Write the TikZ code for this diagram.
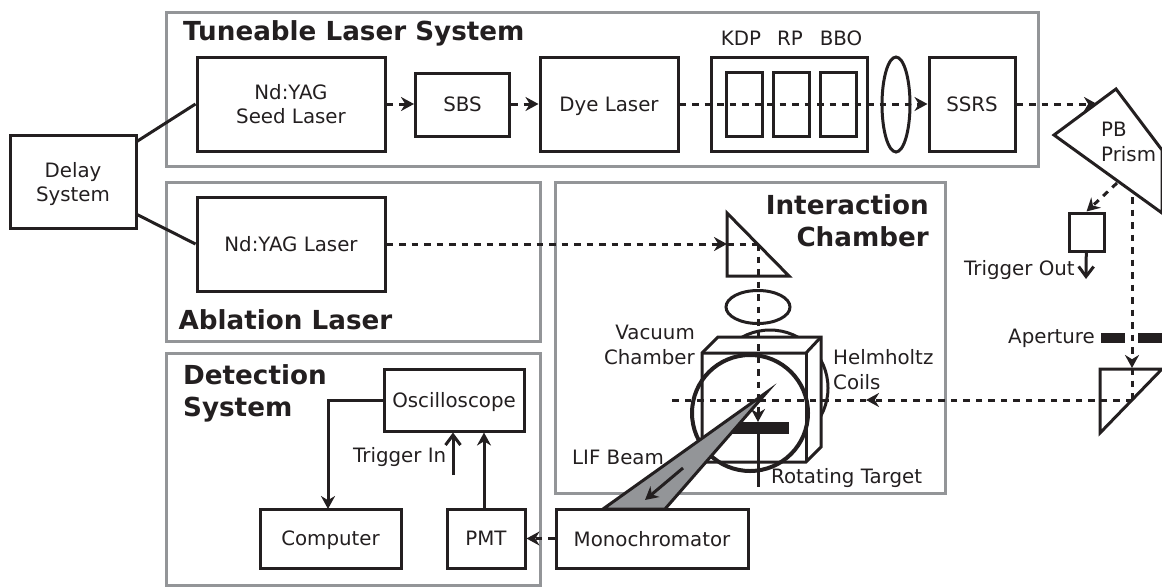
\documentclass[tikz,border=0pt]{standalone}
\usepackage{fontspec}
\setmainfont{DejaVu Sans}
\usetikzlibrary{shapes.geometric, arrows.meta}
\definecolor{ink}{HTML}{231F20}
\definecolor{framegray}{HTML}{939598}
\tikzstyle{box} = [rectangle, draw=ink, line width=3pt, inner sep=0pt, text=ink, align=center, text depth=0pt, font=\fontsize{19.8}{24.5}\selectfont]
\tikzstyle{frame} = [rectangle, draw=framegray, line width=3pt, inner sep=0pt]
\tikzstyle{title} = [inner sep=0pt, text=ink, font=\fontsize{26.2}{32}\selectfont\bfseries]
\tikzstyle{tag} = [inner sep=0pt, text=ink, font=\fontsize{19.8}{25}\selectfont]
\tikzstyle{solid line} = [draw=ink, line width=3pt]
\tikzstyle{arrow} = [draw=ink, line width=3pt,-{Stealth[length=13pt,width=14pt]}]
\tikzstyle{open arrow} = [draw=ink, line width=3pt,-{Straight Barb[length=10pt,width=15pt]}]
\tikzstyle{beam} = [draw=ink, line width=3pt,-{Stealth[length=13pt,width=14pt]}, dash pattern=on 6.5pt off 6pt]
\tikzstyle{beam end} = [draw=ink, line width=3pt, dash pattern=on 6.5pt off 6pt]
\begin{document}
\begin{tikzpicture}[x=1pt, y=-1pt, line join=miter]
            \useasboundingbox (0,0) rectangle (1162,587);

            % frames
            \node (tuneable)  [frame, minimum width=872pt, minimum height=154pt] at (602,89) {};
            \node (ablation)  [frame, minimum width=374pt, minimum height=159pt] at (353,261.5) {};
            \node (interact)  [frame, minimum width=390pt, minimum height=311pt] at (750,337.5) {};
            \node (detection) [frame, minimum width=374pt, minimum height=232pt] at (353,469) {};

            \node (ttune)   [title, anchor=west] at (183,33) {Tuneable Laser System};
            \node (tablate) [title, anchor=west] at (178.5,320) {Ablation Laser};
            \node (tinter)  [title, anchor=east, align=right] at (929,221) {Interaction\\Chamber};
            \node (tdetect) [title, anchor=west, align=left] at (183,393) {Detection\\System};

            % boxes
            \node (delay) [box, minimum width=126pt, minimum height=93pt] at (73,182) {Delay\\System};
            \node (seed)  [box, minimum width=188pt, minimum height=94pt] at (291,104) {Nd:YAG\\Seed Laser};
            \node (sbs)   [box, minimum width=94pt, minimum height=63pt] at (462.5,104.5) {SBS};
            \node (dye)   [box, minimum width=138pt, minimum height=94pt] at (609,104) {Dye Laser};
            \node (cryst) [box, minimum width=156pt, minimum height=94pt] at (789,104) {};
            \node (kdp)   [box, minimum width=36pt, minimum height=64pt] at (744,104) {};
            \node (rp)    [box, minimum width=36pt, minimum height=64pt] at (791,104) {};
            \node (bbo)   [box, minimum width=36pt, minimum height=64pt] at (838,104) {};
            \node (ssrs)  [box, minimum width=86pt, minimum height=94pt] at (972,104) {SSRS};
            \node (yag)   [box, minimum width=188pt, minimum height=94pt] at (291,244) {Nd:YAG Laser};
            \node (scope) [box, minimum width=140pt, minimum height=62pt] at (454,400) {Oscilloscope};
            \node (comp)  [box, minimum width=141pt, minimum height=59pt] at (330.5,538.5) {Computer};
            \node (pmt)   [box, minimum width=78pt, minimum height=59pt] at (486,538.5) {PMT};
            \node (mono)  [box, minimum width=192pt, minimum height=59pt] at (652,538.5) {Monochromator};
            \node (trig)  [box, minimum width=35pt, minimum height=38pt] at (1086.5,232) {};

            \node (lkdp) [tag] at (741,38) {KDP};
            \node (lrp)  [tag] at (790,38) {RP};
            \node (lbbo) [tag] at (841,38) {BBO};
            \node (lens) [ellipse, draw=ink, line width=3pt, minimum width=28pt, minimum height=95pt, inner sep=0pt] at (896,104.5) {};

            % prisms
            \coordinate (pbleft) at (1054,135);
            \coordinate (pbtop)  at (1116,89);
            \draw [solid line] (pbleft) -- (pbtop) -- (1162,150) -- (1162,213) -- cycle;
            \node (lpb) [tag, anchor=west, align=left] at (1101,142) {PB\\Prism};
            \draw [solid line] (1100,369) -- (1162,369) -- (1100,433) -- cycle;
            \draw [solid line] (727,213) -- (789,276) -- (727,276) -- cycle;
            \node (flens) [ellipse, draw=ink, line width=3pt, minimum width=64pt, minimum height=33pt, inner sep=0pt] at (758,307) {};

            % chamber
            \draw [solid line] (770,388) circle (58pt);
            \draw [solid line, fill=white] (702,353) -- (718,337) -- (821,337) -- (821,447) -- (806,462) -- (702,462) -- cycle;
            \draw [solid line] (702,353) -- (806,353) -- (821,337);
            \draw [solid line] (806,353) -- (806,462);
            \draw [ink, line width=4pt] (750,413) circle (58pt);
            \node (targ) [rectangle, fill=ink, minimum width=59pt, minimum height=12pt, inner sep=0pt] at (759.5,428) {};
            \coordinate (rodend) at (758,487);
            \draw [solid line] (758,428) -- (rodend);

            % beams
            \coordinate (delayup) at (136,142);
            \coordinate (delaylo) at (136,214);
            \coordinate (pbin)    at (1097,104);
            \coordinate (pbout)   at (1117,183);
            \coordinate (pbdown)  at (1132,197);
            \coordinate (turn)    at (1132,400);
            \coordinate (lowin)   at (1132,368);
            \coordinate (cross)   at (667,400);
            \coordinate (mirror)  at (758,244);
            \coordinate (topin)   at (727,244);
            \coordinate (hit)     at (758,422);
            \coordinate (hitin)   at (866,400);
            \draw [solid line] (delayup) -- (seed.west);
            \draw [solid line] (delaylo) -- (yag.west);
            \draw [beam] (seed) -- (sbs.west |- seed);
            \draw [beam] (sbs.east |- seed) -- (dye);
            \draw [beam] (dye) -- (ssrs);
            \draw [beam] (ssrs) -- (pbin);
            \draw [beam] (pbout) -- (trig.north);
            \draw [beam] (pbdown) -- (lowin);
            \draw [beam end] (lowin) -- (turn);
            \draw [beam] (turn) -- (hitin);
            \draw [beam end] (hitin) -- (cross);
            \draw [beam] (yag) -- (topin);
            \draw [beam end] (topin) -- (mirror);
            \draw [beam] (mirror) -- (hit);
            \draw [beam] (mono) -- (pmt);
            \coordinate (pmtup) at (484,509);
            \draw [arrow] (pmtup) -- (pmtup |- scope.south);
            \coordinate (trigin) at (453,475);
            \draw [open arrow] (trigin) -- (trigin |- scope.south);
            \draw [arrow] (scope.west) -| (328,509);
            \coordinate (trigout) at (1086,279);
            \draw [open arrow] (trig) -- (trigout);

            % aperture
            \node (apl) [rectangle, fill=ink, minimum width=24pt, minimum height=10pt, inner sep=0pt] at (1113,338) {};
            \node (apr) [rectangle, fill=ink, minimum width=24pt, minimum height=10pt, inner sep=0pt] at (1150,338) {};

            % LIF beam
            \draw [draw=ink, line width=3pt, fill=framegray] (767,392) -- (603,509) -- (665,509) -- cycle;
            \coordinate (lifa) at (683,468);
            \coordinate (lifb) at (645,500);
            \draw [arrow] (lifa) -- (lifb);

            \node (lvac)  [tag, anchor=east, align=right] at (695,345) {Vacuum\\Chamber};
            \node (lhelm) [tag, anchor=west, align=left] at (833,369.5) {Helmholtz\\Coils};
            \node (llif)  [tag, anchor=west] at (572,457) {LIF Beam};
            \node (lrot)  [tag, anchor=west] at (771,478) {Rotating Target};
            \node (ltin)  [tag, anchor=west] at (353,457) {Trigger In};
            \node (ltout) [tag, anchor=west] at (964,270) {Trigger Out};
            \node (lap)   [tag, anchor=west] at (1008,338) {Aperture};
        \end{tikzpicture}
\end{document}
